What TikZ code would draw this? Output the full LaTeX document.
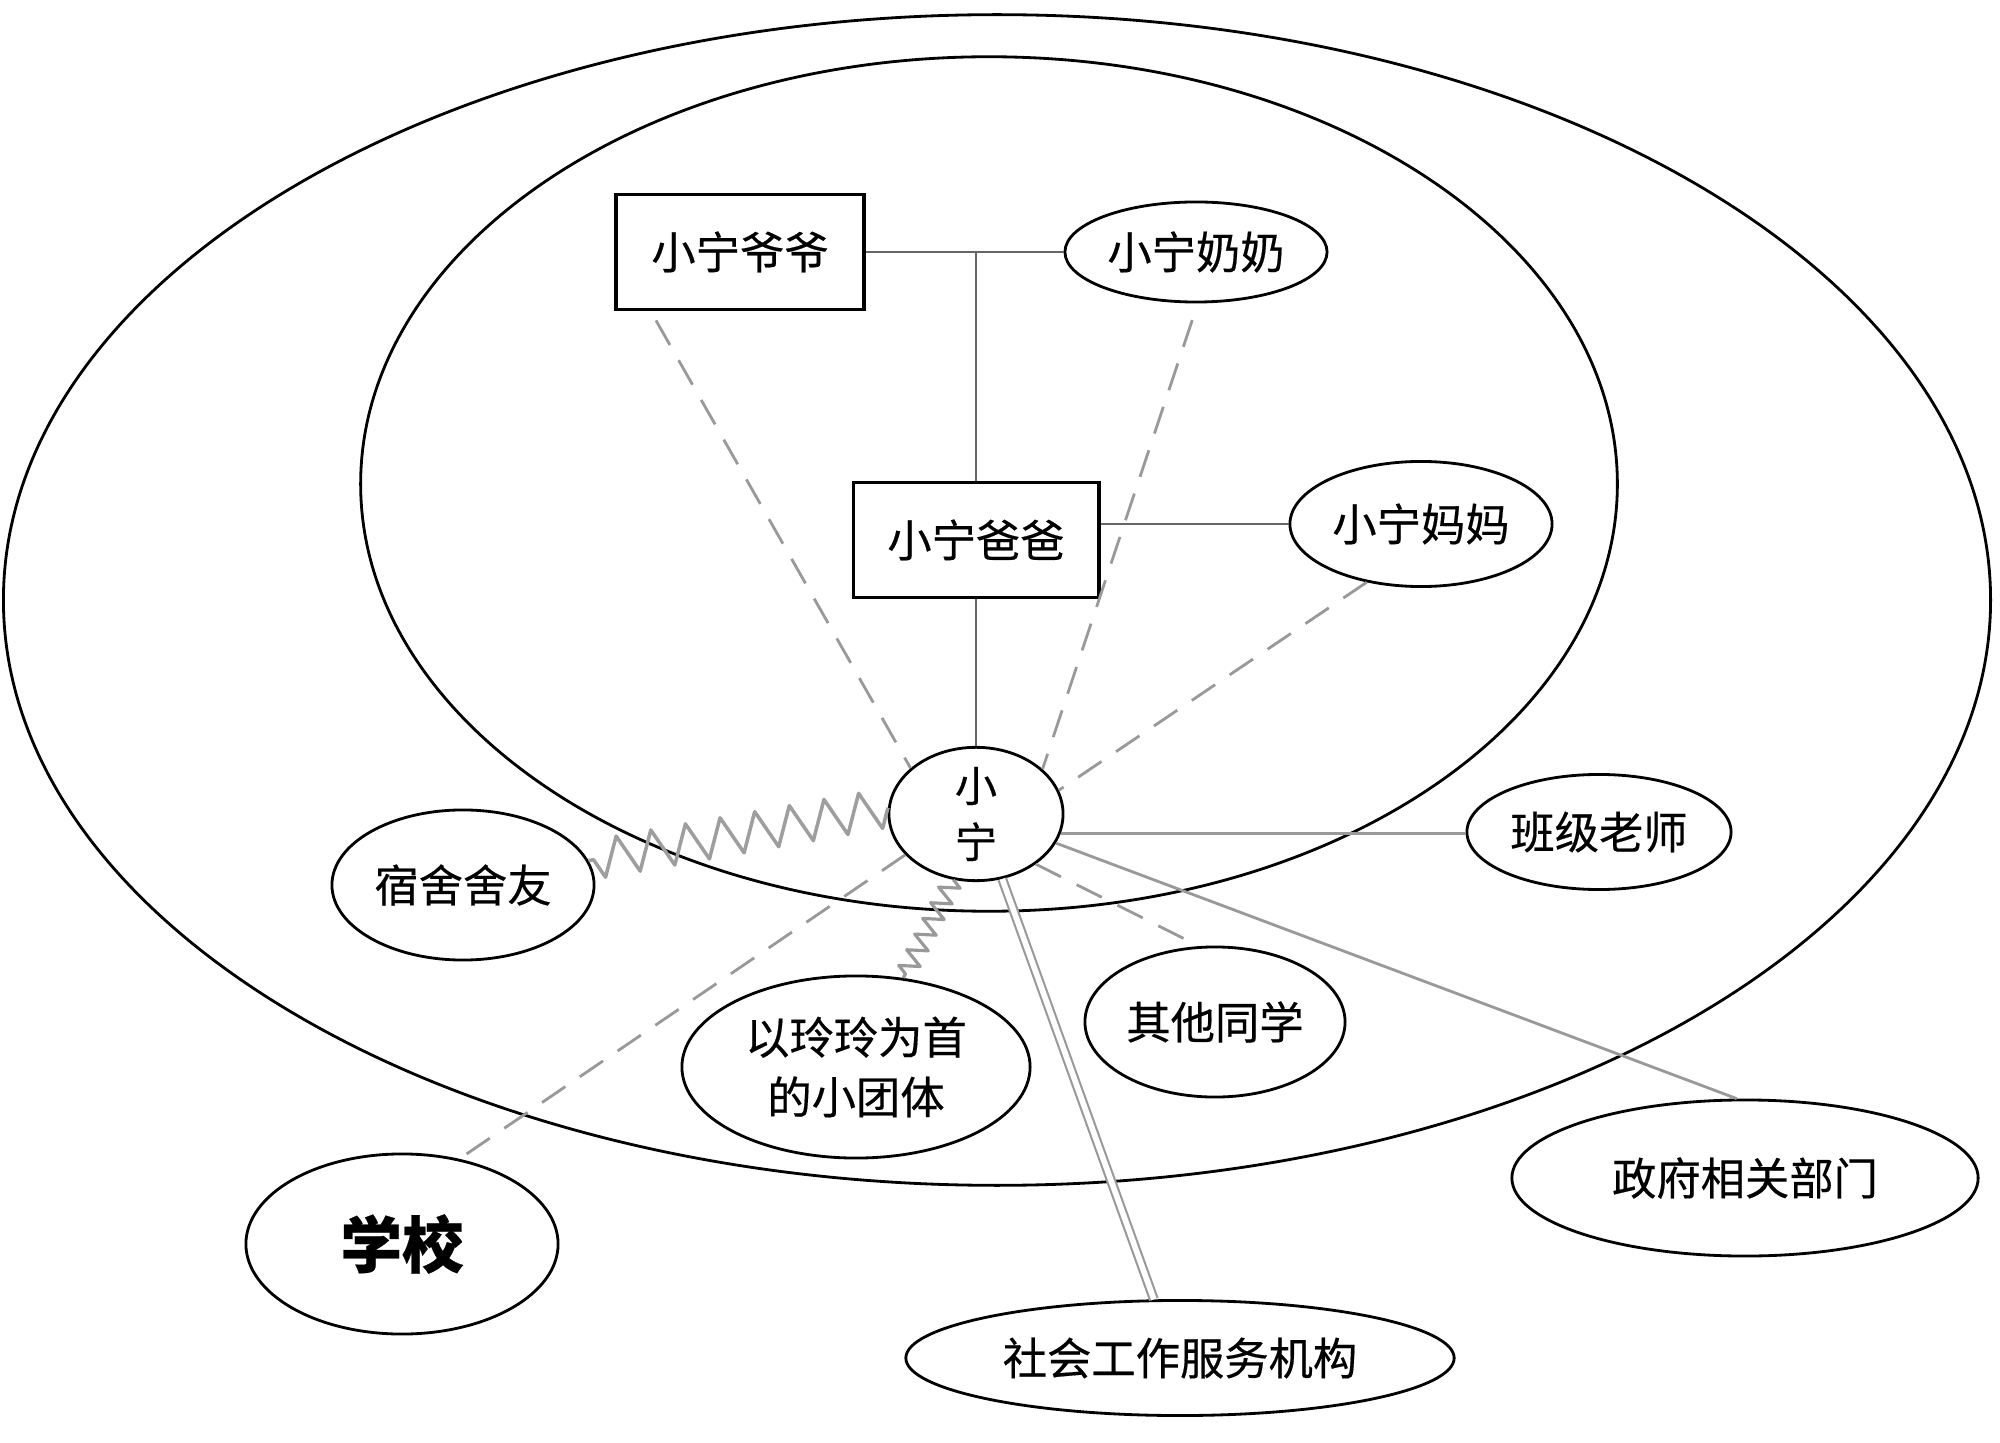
\documentclass[tikz,border=0pt]{standalone}
\usepackage{fontspec}
\newfontfamily\cjk[FakeBold=0.4]{Noto Sans CJK SC}
\usetikzlibrary{decorations.pathmorphing,shapes.geometric,calc}
\begin{document}
\begin{tikzpicture}[x=0.01cm,y=-0.01cm,
  every node/.style={font=\cjk\fontsize{12.6}{17}\selectfont,align=center,inner sep=0pt},
  oval/.style={ellipse,draw=black,line width=0.8pt,fill=white},
  boxnode/.style={rectangle,draw=black,line width=1.1pt,fill=white},
  ring/.style={draw=black,line width=0.8pt},
  famline/.style={draw=black!60,line width=0.7pt},
  outline/.style={draw=black!40,line width=0.8pt},
  dashline/.style={draw=black!40,line width=0.8pt,dash pattern=on 8pt off 5pt},
  zig/.style={draw=black!38,line width=1pt,line join=round,decorate,decoration={zigzag,segment length=10pt,amplitude=5.5pt}},
  zigsmall/.style={draw=black!40,line width=0.9pt,line join=round,decorate,decoration={zigzag,segment length=5pt,amplitude=2.8pt}},
  dbl/.style={draw=black!40,line width=0.6pt,double=white,double distance=1.6pt}]
\useasboundingbox (0,0) rectangle (2000,1443);
\fill[white] (0,0) rectangle (2000,1443);
% rings
\draw[ring] (997,600) ellipse [x radius=9.93cm, y radius=5.85cm];
\draw[ring] (989,484) ellipse [x radius=6.28cm, y radius=4.27cm];
% nodes
\node[boxnode,minimum width=2.48cm,minimum height=1.15cm] (yeye) at (740,252) {小宁爷爷};
\node[oval,minimum width=2.62cm,minimum height=1.0cm] (nainai) at (1196,252) {小宁奶奶};
\node[boxnode,minimum width=2.45cm,minimum height=1.15cm] (baba) at (976,540) {小宁爸爸};
\node[oval,minimum width=2.62cm,minimum height=1.25cm] (mama) at (1421,524) {小宁妈妈};
\node[oval,minimum width=1.74cm,minimum height=1.24cm,font=\cjk\fontsize{12}{16}\selectfont] (ning) at (976,814) {小\\宁};
\node[oval,minimum width=2.64cm,minimum height=1.15cm] (teacher) at (1599,832) {班级老师};
\node[oval,minimum width=2.62cm,minimum height=1.5cm] (sushe) at (463,885) {宿舍舍友};
\node[oval,minimum width=3.48cm,minimum height=1.82cm] (group) at (856,1067) {以玲玲为首\\的小团体};
\node[oval,minimum width=2.6cm,minimum height=1.5cm] (tongxue) at (1215,1022) {其他同学};
\node[oval,minimum width=3.12cm,minimum height=1.8cm,font=\cjk\bfseries\fontsize{17.5}{20}\selectfont] (school) at (402,1244) {学校};
\node[oval,minimum width=5.48cm,minimum height=1.15cm] (shehui) at (1180,1358) {社会工作服务机构};
\node[oval,minimum width=4.66cm,minimum height=1.56cm] (zhengfu) at (1745,1178) {政府相关部门};
% family lines
\draw[famline] (yeye.east) -- (nainai.west);
\draw[famline] (baba.north |- yeye.east) -- (baba.north);
\draw[famline] (baba.east |- mama.west) -- (mama.west);
\draw[famline] (baba.south) -- (ning.north);
% dashed lines
\draw[dashline] ($(yeye.south west)+(42,9)$) -- (ning.145);
\draw[dashline,shorten <=5pt] (nainai.-88) -- (ning.34);
\draw[dashline] (mama.227) -- (ning.16);
\draw[dashline,shorten >=4pt] (ning.-40) -- (tongxue.102);
\draw[dashline] (ning.210) -- (school.56);
% solid lines
\draw[outline] (ning.-13) -- (teacher.west |- ning.-13);
\draw[outline] (ning.-20) -- (zhengfu.96);
\draw[dbl] (ning.-68) -- (shehui.114);
% zigzags
\draw[zig] (ning.176) -- (sushe.11);
\draw[zigsmall] (ning.-109) -- (group.62);
\end{tikzpicture}
\end{document}
